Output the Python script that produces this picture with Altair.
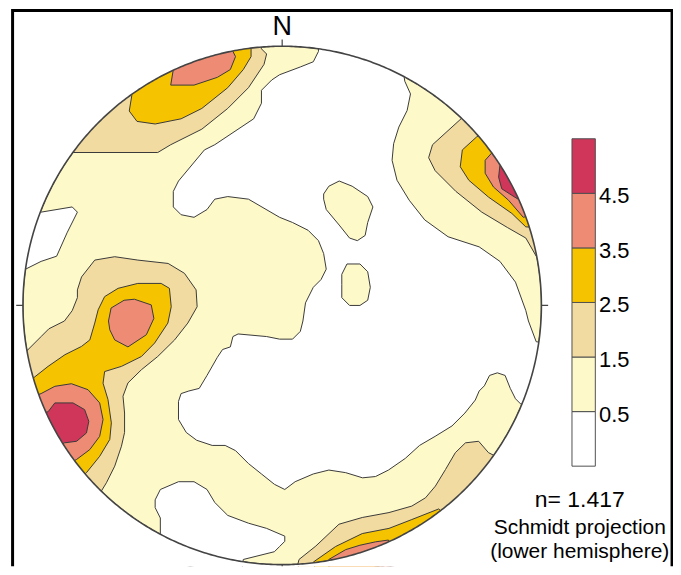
import numpy as np
import altair as alt

# ---------------- data (stereonet coords: x east, y north, primitive circle radius = 100) -------------
LEVEL_COLORS = ["#FFFFFF", "#FEF9C9", "#F1DBA0", "#F6C300", "#EE8B74", "#CF3659"]
THRESHOLDS = ["0.5", "1.5", "2.5", "3.5", "4.5"]
N_TEXT = "n= 1.417"
PROJ_TEXT = ["Schmidt projection", "(lower hemisphere)"]
NORTH = "N"

WHITE_CENTRAL = [(14, 98), (12, 94), (7, 92), (-1, 89), (-4, 87), (-8, 83), (-8, 78), (-11, 72), (-26, 62),
                 (-30, 60), (-40, 48), (-42, 44), (-42, 38), (-39, 35), (-34, 34), (-29, 37), (-26, 41),
                 (-21, 42), (-13, 41), (-1, 34), (4, 32), (10, 29), (14, 25), (16, 20), (17, 14), (15, 10),
                 (12, 7), (9, 1), (8, -6), (7, -10), (4, -13), (-1, -13), (-6, -12), (-17, -11), (-19, -12),
                 (-20, -16), (-23, -17), (-25, -20), (-29, -27), (-32, -32), (-36, -33), (-39, -34), (-40, -37),
                 (-40, -44), (-37, -49), (-33, -52), (-27, -54), (-22, -54), (-18, -56), (-13, -61), (-8, -65),
                 (-3, -69), (1, -71), (5, -68), (12, -65), (18, -63.5), (24.5, -64.5), (31, -66.5), (36, -66),
                 (41, -63.5), (47.5, -59), (53, -54), (59, -50.5), (65.5, -46.5), (70.5, -41.5), (74.5, -36.5),
                 (76, -33), (78, -31), (80, -27), (83, -26), (86, -27), (88, -32), (90, -36), (92, -38),
                 (106, -40), (106, -15), (98, -14), (95, -6), (94, -2), (90, 9), (84, 17), (76, 22.6),
                 (64, 26.5), (55, 33), (49, 40.6), (44.3, 48.3), (42.4, 56), (43, 62.4), (45, 68.8),
                 (48.2, 75.2), (49.5, 81.6), (47.3, 86.5), (47, 88.5), (50, 95), (32, 100), (14, 104)]
WHITE_LEFT = [(-93, 36), (-81, 38), (-79, 36), (-83, 28), (-87, 19), (-93, 17), (-99, 14), (-106, 14), (-106, 37)]
WHITE_BOTTOM = [(-47, -88), (-47, -82), (-49, -78), (-49, -75), (-47, -71), (-40, -68), (-34, -68), (-29, -71),
                (-26, -76), (-21, -81), (-13, -84), (-6, -86), (1, -89), (1, -91), (-1, -93), (-3, -95),
                (-15, -98), (-16, -106), (-38, -100), (-52, -94)]
ISLAND_A = [(16, 43), (18, 46), (22, 48), (27, 46), (33, 42), (35, 38), (33, 32), (32, 27), (29, 25), (26, 26),
            (22, 31), (17, 37), (16, 41)]
ISLAND_B = [(23, 12), (25, 16), (30, 16), (33, 13), (34, 7), (33, 2), (30, 0), (26, 0), (23, 3), (23, 8)]

TAN_TOP_LEFT = [(-81, 59), (-48, 59), (-43, 62), (-31, 68), (-21, 76), (-13, 84), (-7, 93), (-6, 97), (-8, 99),
                (-9, 106), (-45, 97), (-75, 72), (-88, 60)]
GOLD_TOP_LEFT = [(-58, 81), (-59, 75), (-56, 71), (-49, 70), (-39, 72), (-31, 76), (-21, 84), (-15, 91),
                 (-12, 96), (-12, 99), (-13, 106), (-40, 100), (-62, 86)]
SALMON_TOP_LEFT = [(-42, 91), (-43, 85), (-34, 85), (-25, 88), (-20, 91), (-18, 96), (-19, 98), (-20, 105),
                   (-44, 97)]

TAN_RIGHT = [(69, 72), (58, 62), (56.5, 57), (59, 52), (67, 44), (77, 36), (87, 30), (94, 26), (98, 19),
             (106, 20), (75, 78)]
GOLD_RIGHT = [(75, 65), (69.5, 60), (68.7, 53.5), (72, 48.3), (79.6, 41.8), (88.6, 35.5), (94, 30.3), (104, 30),
              (80, 68)]
SALMON_RIGHT = [(81, 59), (78.3, 56), (78.3, 51), (81.5, 45.7), (87.3, 40.6), (93, 34), (101, 36), (84, 62)]
CRIMSON_RIGHT = [(84, 54), (83.5, 49.5), (84.7, 45), (88.6, 42.5), (91, 41), (96, 43), (88, 57)]

TAN_LEFT = [(-99, -18), (-93, -12), (-90, -9), (-84, -6), (-81, -2), (-79, 3), (-79, 6), (-77.4, 11), (-72.3, 17.5),
            (-64.6, 18.8), (-55.7, 17.5), (-44, 16.2), (-37.7, 12.4), (-33.2, 6), (-32.8, -0.5), (-36.4, -6.8),
            (-41.5, -13.3), (-48, -19.7), (-54.3, -24.8), (-59.5, -29.9), (-61.4, -35), (-60.8, -41.5),
            (-60.8, -49), (-62, -54.3), (-64.6, -62), (-67.8, -68.4), (-70, -72), (-78, -78), (-98, -50),
            (-106, -20)]
GOLD_LEFT = [(-96, -28), (-90.3, -23.5), (-83.8, -19), (-77.4, -15.8), (-74.2, -13.3), (-72.3, -6.8), (-71, -1.7),
             (-68.5, 3.4), (-63.3, 6.6), (-55.7, 8.5), (-46.7, 8.5), (-43.5, 6.6), (-42.8, -0.5), (-44.1, -6.8),
             (-49.2, -14.5), (-54.3, -19.7), (-62, -23.5), (-68.5, -25.5), (-69.1, -30), (-67.2, -36.3),
             (-65.9, -45.3), (-66.5, -51.7), (-70.4, -58.2), (-75.5, -64.5), (-84, -72), (-104, -32)]
SALMON_LEFT_UPPER = [(-67, -6), (-66, -1), (-61, 2), (-57, 2.4), (-50.5, 0.2), (-49.5, -5), (-52.4, -11.3),
                     (-59.5, -16), (-64.6, -13.3), (-66.5, -9.4)]
SALMON_LEFT_LOWER = [(-93, -34), (-87.7, -31.2), (-81.3, -30.2), (-74.9, -32.5), (-70.4, -37.6), (-69.1, -44),
                     (-70.4, -50.5), (-74.2, -55.6), (-79.3, -59.4), (-88, -64), (-104, -38)]
CRIMSON_LEFT = [(-90.3, -41), (-87.7, -37.6), (-80.7, -37.6), (-76.2, -40.2), (-74.6, -44.7), (-75.5, -49.2),
                (-79.3, -52.4), (-84, -53), (-92, -58), (-100, -44)]

TAN_BOTTOM = [(6, -100), (6.5, -98), (13, -92.8), (21.9, -84.4), (30.9, -81.8), (41.2, -79.9), (50, -77.4),
              (55.3, -74.2), (59.1, -69.7), (63, -63.3), (66.8, -56.8), (70.7, -53), (75.8, -52.4),
              (79.6, -56.8), (82, -58), (88, -62), (62, -90), (36, -102), (8, -106)]
GOLD_BOTTOM = [(12, -99), (20.6, -93), (30.9, -88), (41.2, -86), (50, -82.6), (60.4, -78.5), (66, -84),
               (40, -100), (14, -106)]
SALMON_BOTTOM = [(18, -98), (24.5, -94.2), (30, -92.5), (36, -91.2), (41, -90.5), (45, -100), (18, -106)]

# painting order: (polygon, density class)
CONTOURS = [
    (WHITE_CENTRAL, 0), (WHITE_LEFT, 0), (WHITE_BOTTOM, 0), (ISLAND_A, 1), (ISLAND_B, 1),
    (TAN_TOP_LEFT, 2), (GOLD_TOP_LEFT, 3), (SALMON_TOP_LEFT, 4),
    (TAN_RIGHT, 2), (GOLD_RIGHT, 3), (SALMON_RIGHT, 4), (CRIMSON_RIGHT, 5),
    (TAN_LEFT, 2), (GOLD_LEFT, 3), (SALMON_LEFT_UPPER, 4), (SALMON_LEFT_LOWER, 4), (CRIMSON_LEFT, 5),
    (TAN_BOTTOM, 2), (GOLD_BOTTOM, 3), (SALMON_BOTTOM, 4),
]

# ---------------- geometry helpers -------------
R = 100.0
theta = np.linspace(0, 2 * np.pi, 721)
circle_ccw = [[float(R * np.cos(t)), float(R * np.sin(t))] for t in theta]
circle_cw = circle_ccw[::-1]


def polygon(rings, level=None):
    rr = []
    for ring in rings:
        ring = [[float(a), float(b)] for a, b in ring]
        if ring[0] != ring[-1]:
            ring.append(ring[0])
        rr.append(ring)
    f = {"type": "Feature", "geometry": {"type": "Polygon", "coordinates": rr}, "properties": {}}
    if level is not None:
        f["properties"]["level"] = level
    return f


def lines(paths):
    return {"type": "Feature", "geometry": {"type": "MultiLineString",
                                             "coordinates": [[[float(a), float(b)] for a, b in p] for p in paths]},
            "properties": {}}


PROJ = dict(type="identity", scale=2.6, translate=[275, 297.5], reflectY=True)
color = alt.Color("properties.level:O", scale=alt.Scale(domain=list(range(6)), range=LEVEL_COLORS), legend=None)

contour_features = [polygon([circle_ccw], 1)] + [polygon([pts], lvl) for pts, lvl in CONTOURS]
contours = alt.Chart(alt.Data(values=contour_features)).mark_geoshape(
    stroke="#3a3a3a", strokeWidth=1, strokeJoin="round").encode(color=color).project(**PROJ)

mask_outer = [(-135, -135), (109, -135), (109, 135), (-135, 135)]
mask = alt.Chart(alt.Data(values=[polygon([mask_outer, circle_cw])])).mark_geoshape(
    fill="white", strokeOpacity=0).project(**PROJ)

outline = alt.Chart(alt.Data(values=[lines([circle_ccw])])).mark_geoshape(
    filled=False, stroke="#444444", strokeWidth=1.6).project(**PROJ)

ticks = alt.Chart(alt.Data(values=[lines([[(0, R), (0, R + 2.6)], [(0, -R), (0, -R - 2.6)],
                                          [(-R, 0), (-R - 2.6, 0)], [(R, 0), (R + 2.6, 0)]])])).mark_geoshape(
    filled=False, stroke="#444444", strokeWidth=1.2).project(**PROJ)

frame = alt.Chart(alt.Data(values=[lines([[(-104.0, -130), (-104.0, 113.8), (150.4, 113.8), (150.4, -130)]])])
                  ).mark_geoshape(filled=False, stroke="black", strokeWidth=3, strokeJoin="miter").project(**PROJ)

# legend (discrete colour bar)
LEG_X0, LEG_X1, LEG_BOT, LEG_STEP = 111.8, 120.8, -62.0, 21.05
legend_features = [polygon([[(LEG_X0, LEG_BOT + i * LEG_STEP), (LEG_X1, LEG_BOT + i * LEG_STEP),
                             (LEG_X1, LEG_BOT + (i + 1) * LEG_STEP), (LEG_X0, LEG_BOT + (i + 1) * LEG_STEP)]], i)
                   for i in range(len(LEVEL_COLORS))]
legend_blocks = alt.Chart(alt.Data(values=legend_features)).mark_geoshape(
    stroke="#505050", strokeWidth=1).encode(color=color).project(**PROJ)

legend_labels = alt.Chart(alt.Data(values=[
    {"lon": 122.2, "lat": LEG_BOT + (i + 1) * LEG_STEP - 3.85, "label": t} for i, t in enumerate(THRESHOLDS)
])).mark_text(align="left", baseline="alphabetic", fontSize=22, font="Liberation Sans", color="black").encode(
    longitude="lon:Q", latitude="lat:Q", text="label:N").project(**PROJ)

north = alt.Chart(alt.Data(values=[{"lon": 0, "lat": 104.3, "label": NORTH}])).mark_text(
    align="center", baseline="alphabetic", fontSize=27, font="Liberation Sans", color="black").encode(
    longitude="lon:Q", latitude="lat:Q", text="label:N").project(**PROJ)

n_text = alt.Chart(alt.Data(values=[{"lon": 114.8, "lat": -77.6, "label": N_TEXT}])).mark_text(
    align="center", baseline="alphabetic", fontSize=23, font="Liberation Sans", color="black").encode(
    longitude="lon:Q", latitude="lat:Q", text="label:N").project(**PROJ)

proj_text = alt.Chart(alt.Data(values=[
    {"lon": 114.8, "lat": -88.3, "label": PROJ_TEXT[0]},
    {"lon": 114.8, "lat": -97.3, "label": PROJ_TEXT[1]},
])).mark_text(align="center", baseline="alphabetic", fontSize=21, font="Liberation Sans", color="black").encode(
    longitude="lon:Q", latitude="lat:Q", text="label:N").project(**PROJ)

chart = alt.layer(contours, mask, outline, ticks, frame, legend_blocks, legend_labels, north, n_text,
                  proj_text).properties(
    width=667, height=559, padding=0, autosize=alt.AutoSizeParams(type="none"),
    background="white").configure_view(stroke=None)

chart.save("out.html", embed_options={"renderer": "svg", "actions": False})
